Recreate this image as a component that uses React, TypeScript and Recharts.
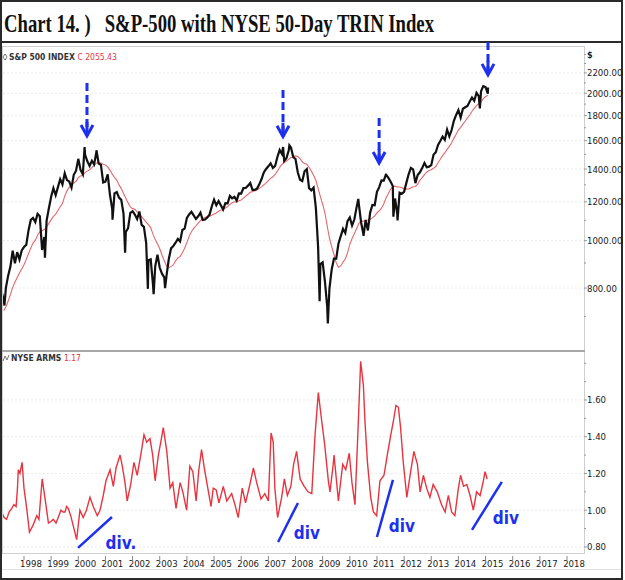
import React from "react";
import { LineChart, Line, XAxis, YAxis, CartesianGrid, ReferenceLine, ReferenceDot } from "recharts";

// ---- S&P 500 month-end closes (1996-06 .. 2015-01) ----
const spxMonths = [
  "1996-06","1996-07","1996-08","1996-09","1996-10","1996-11","1996-12",
  "1997-01","1997-02","1997-03","1997-04","1997-05","1997-06","1997-07","1997-08","1997-09","1997-10","1997-11","1997-12",
  "1998-01","1998-02","1998-03","1998-04","1998-05","1998-06","1998-07","1998-08","1998-09","1998-10","1998-11","1998-12",
  "1999-01","1999-02","1999-03","1999-04","1999-05","1999-06","1999-07","1999-08","1999-09","1999-10","1999-11","1999-12",
  "2000-01","2000-02","2000-03","2000-04","2000-05","2000-06","2000-07","2000-08","2000-09","2000-10","2000-11","2000-12",
  "2001-01","2001-02","2001-03","2001-04","2001-05","2001-06","2001-07","2001-08","2001-09","2001-10","2001-11","2001-12",
  "2002-01","2002-02","2002-03","2002-04","2002-05","2002-06","2002-07","2002-08","2002-09","2002-10","2002-11","2002-12",
  "2003-01","2003-02","2003-03","2003-04","2003-05","2003-06","2003-07","2003-08","2003-09","2003-10","2003-11","2003-12",
  "2004-01","2004-02","2004-03","2004-04","2004-05","2004-06","2004-07","2004-08","2004-09","2004-10","2004-11","2004-12",
  "2005-01","2005-02","2005-03","2005-04","2005-05","2005-06","2005-07","2005-08","2005-09","2005-10","2005-11","2005-12",
  "2006-01","2006-02","2006-03","2006-04","2006-05","2006-06","2006-07","2006-08","2006-09","2006-10","2006-11","2006-12",
  "2007-01","2007-02","2007-03","2007-04","2007-05","2007-06","2007-07","2007-08","2007-09","2007-10","2007-11","2007-12",
  "2008-01","2008-02","2008-03","2008-04","2008-05","2008-06","2008-07","2008-08","2008-09","2008-10","2008-11","2008-12",
  "2009-01","2009-02","2009-03","2009-04","2009-05","2009-06","2009-07","2009-08","2009-09","2009-10","2009-11","2009-12",
  "2010-01","2010-02","2010-03","2010-04","2010-05","2010-06","2010-07","2010-08","2010-09","2010-10","2010-11","2010-12",
  "2011-01","2011-02","2011-03","2011-04","2011-05","2011-06","2011-07","2011-08","2011-09","2011-10","2011-11","2011-12",
  "2012-01","2012-02","2012-03","2012-04","2012-05","2012-06","2012-07","2012-08","2012-09","2012-10","2012-11","2012-12",
  "2013-01","2013-02","2013-03","2013-04","2013-05","2013-06","2013-07","2013-08","2013-09","2013-10","2013-11","2013-12",
  "2014-01","2014-02","2014-03","2014-04","2014-05","2014-06","2014-07","2014-08","2014-09","2014-10","2014-11","2014-12",
  "2015-01",
];
const spxCloses = [
  671, 640, 652, 687, 705, 757, 741,
  786, 791, 757, 801, 848, 885, 954, 899, 947, 915, 955, 970,
  980, 1049, 1102, 1112, 1091, 1134, 1121, 957, 1017, 1099, 1164, 1229,
  1280, 1238, 1286, 1335, 1302, 1373, 1329, 1320, 1283, 1363, 1389, 1469,
  1394, 1366, 1499, 1452, 1421, 1455, 1431, 1518, 1437, 1429, 1315, 1320,
  1366, 1240, 1160, 1249, 1256, 1224, 1211, 1134, 1041, 1060, 1139, 1148,
  1130, 1107, 1147, 1077, 1067, 990, 912, 916, 815, 886, 936, 880,
  856, 841, 848, 917, 964, 975, 990, 1008, 996, 1051, 1058, 1112,
  1131, 1145, 1126, 1107, 1121, 1141, 1102, 1104, 1115, 1130, 1174, 1212,
  1181, 1204, 1181, 1157, 1192, 1191, 1234, 1220, 1229, 1207, 1249, 1248,
  1280, 1281, 1295, 1311, 1270, 1270, 1277, 1304, 1336, 1378, 1401, 1418,
  1438, 1407, 1421, 1482, 1531, 1503, 1455, 1474, 1527, 1549, 1481, 1468,
  1379, 1331, 1323, 1386, 1400, 1280, 1267, 1283, 1166, 969, 896, 903,
  826, 735, 798, 873, 919, 919, 987, 1021, 1057, 1036, 1096, 1115,
  1074, 1104, 1169, 1187, 1089, 1031, 1102, 1049, 1141, 1183, 1181, 1258,
  1286, 1327, 1326, 1364, 1345, 1321, 1292, 1219, 1131, 1253, 1247, 1258,
  1312, 1366, 1408, 1398, 1310, 1362, 1379, 1407, 1441, 1412, 1416, 1426,
  1498, 1515, 1569, 1598, 1631, 1606, 1686, 1633, 1682, 1757, 1806, 1848,
  1783, 1859, 1872, 1884, 1924, 1960, 1931, 2003, 1972, 2018, 2068, 2059,
  1995,
];
// intra-month swing highs / lows visible on the chart
const spxSwingDates = [
  "1997-04-11","1998-10-08","2000-03-24","2000-09-01","2001-04-04","2001-09-21",
  "2002-07-23","2002-10-09","2003-03-11","2007-07-16","2007-10-09","2008-11-20",
  "2009-03-09","2010-04-23","2010-07-02","2011-04-29","2011-08-08","2011-10-03",
  "2014-10-15","2015-02-03",
];
const spxSwingValues = [
  737, 923, 1553, 1530, 1103, 945,
  797, 777, 800, 1553, 1565, 752,
  677, 1217, 1022, 1364, 1119, 1099,
  1862, 2055,
];

// ---- NYSE ARMS (50-day TRIN) ----
const trinYears = [
  1997.18,1997.27,1997.36,1997.45,1997.55,1997.63,1997.71,1997.76,1997.79,1997.85,1997.93,
  1998.00,1998.10,1998.20,1998.34,1998.47,1998.55,1998.67,1998.77,1998.90,
  1999.00,1999.08,1999.18,1999.26,1999.36,1999.44,1999.51,1999.57,1999.63,1999.72,1999.84,1999.94,
  2000.06,2000.18,2000.30,2000.43,2000.55,2000.70,2000.80,2000.92,
  2001.02,2001.17,2001.29,2001.39,2001.54,2001.62,2001.72,2001.80,2001.93,
  2002.05,2002.17,2002.30,2002.42,2002.52,2002.64,2002.74,2002.83,2002.95,
  2003.05,2003.13,2003.26,2003.38,2003.48,2003.60,2003.75,2003.85,2003.99,
  2004.11,2004.22,2004.34,2004.44,2004.54,2004.64,2004.77,2004.89,2004.97,
  2005.08,2005.18,2005.34,2005.47,2005.65,2005.77,2005.89,
  2006.04,2006.16,2006.32,2006.45,2006.57,2006.73,2006.87,
  2007.00,2007.10,2007.18,2007.24,2007.34,2007.49,2007.59,2007.70,2007.83,2007.93,
  2008.04,2008.17,2008.32,2008.46,2008.60,2008.72,2008.84,2008.97,
  2009.08,2009.21,2009.27,2009.39,2009.42,2009.58,2009.74,2009.85,2009.98,
  2010.08,2010.19,2010.29,2010.40,2010.50,2010.56,2010.65,2010.77,2010.87,2010.99,
  2011.11,2011.26,2011.38,2011.51,2011.60,2011.70,2011.79,2011.87,2011.97,
  2012.10,2012.22,2012.36,2012.49,2012.59,2012.71,2012.83,2012.95,
  2013.07,2013.22,2013.38,2013.51,2013.63,2013.75,2013.87,
  2014.00,2014.08,2014.19,2014.31,2014.43,2014.55,2014.67,2014.80,2014.92,2014.98,2015.06,
];
const trinValues = [
  0.99,0.96,0.95,0.99,1.01,1.03,1.02,1.12,1.22,1.20,1.26,
  1.12,1.01,0.88,0.92,0.97,0.95,1.17,1.07,0.93,
  0.94,0.95,0.93,0.96,1.00,0.99,0.99,1.02,1.01,0.97,0.90,0.84,
  1.00,0.96,1.00,1.07,1.02,0.97,1.00,1.08,
  1.16,1.22,1.13,1.23,1.30,1.24,1.15,1.05,1.14,
  1.26,1.19,1.30,1.41,1.37,1.39,1.30,1.16,1.30,
  1.38,1.45,1.32,1.12,1.15,1.01,1.15,1.10,1.00,
  1.24,1.21,1.05,1.22,1.33,1.23,1.12,1.02,1.12,
  1.11,1.04,1.13,1.05,1.09,1.03,0.96,
  1.12,1.04,1.14,1.23,1.15,1.06,1.09,
  1.05,1.42,1.37,1.12,0.96,1.07,1.17,1.08,1.13,1.25,
  1.32,1.17,1.13,1.10,1.09,1.41,1.64,1.48,
  1.35,1.16,1.10,1.25,1.30,1.05,1.25,1.22,1.31,
  1.15,1.03,1.39,1.81,1.68,1.48,1.26,1.07,0.99,0.97,
  1.16,1.19,1.30,1.41,1.48,1.57,1.56,1.45,1.26,
  1.07,1.19,1.32,1.25,1.10,1.19,1.12,1.07,
  1.14,1.10,1.03,0.99,1.08,0.99,0.97,
  1.12,1.19,1.13,1.14,1.08,1.00,1.10,1.08,1.16,1.21,1.17,
];

// ---- axes ----
const yearTicks = [1998,1999,2000,2001,2002,2003,2004,2005,2006,2007,2008,2009,2010,2011,2012,2013,2014,2015,2016,2017,2018];
const spxTicks = [700,800,900,1000,1100,1200,1300,1400,1500,1600,1700,1800,1900,2000,2100,2200,2300,2400];
const spxLabelTicks = [800,1000,1200,1400,1600,1800,2000,2200];
const trinTicks = [0.8,0.9,1.0,1.1,1.2,1.3,1.4,1.5,1.6,1.7,1.8];
const trinLabelTicks = [0.8,1.0,1.2,1.4,1.6];

// ---- annotations ----
const arrowYears = [2000.32, 2007.54, 2011.08, 2015.09];
const arrowTipValues = [1636, 1630, 1440, 2180];
const arrowTopValues = [2099, 2031, 1781, 2545];
const divStartYears = [1999.99, 2007.36, 2011.0, 2014.5];
const divStartValues = [0.795, 0.827, 0.854, 0.893];
const divEndYears = [2001.24, 2008.09, 2011.59, 2015.6];
const divEndValues = [0.963, 1.039, 1.165, 1.154];
const divLabelYears = [2001.57, 2008.42, 2011.92, 2015.75];
const divLabelValues = [0.82, 0.876, 0.914, 0.958];
const divLabels = ["div.", "div", "div", "div"];

const X_DOMAIN: [number, number] = [1997.227, 2018.626];
const NARROW = "'Liberation Sans Narrow', 'Arial Narrow', 'DejaVu Sans Condensed', 'Liberation Sans', sans-serif";
const BLUE = "#1d30f0";

function toYear(s: string): number {
  const parts = s.split("-").map(Number);
  if (parts.length === 3) return parts[0] + (parts[1] - 1) / 12 + parts[2] / 365;
  return parts[0] + parts[1] / 12;
}

const monthly = spxMonths.map((m, i) => {
  let ma: number | null = null;
  if (i >= 9) {
    let s = 0;
    for (let k = i - 9; k <= i; k++) s += spxCloses[k];
    ma = s / 10;
  }
  return { x: toYear(m), spx: spxCloses[i], ma };
});
const swings = spxSwingDates.map((d, i) => ({ x: toYear(d), spx: spxSwingValues[i], ma: null }));
const spxData = [...monthly, ...swings].sort((a, b) => a.x - b.x);
const trinData = trinYears.map((y, i) => ({ x: y, trin: trinValues[i] }));

const SpxTick = (props: any) => {
  const { x, y, payload } = props;
  const major = spxLabelTicks.includes(payload.value);
  return (
    <g>
      <line x1={x} x2={x + (major ? 3 : 2)} y1={y} y2={y} stroke="#999" strokeWidth={1} />
      {major && (
        <text x={x + 3} y={y} dy={3.5} fontSize={9.5} fontFamily={NARROW} fill="#1a1a1a">
          {payload.value.toFixed(2)}
        </text>
      )}
    </g>
  );
};

const TrinTick = (props: any) => {
  const { x, y, payload } = props;
  const major = trinLabelTicks.some((t) => Math.abs(t - payload.value) < 1e-6);
  return (
    <g>
      <line x1={x} x2={x + (major ? 3 : 2)} y1={y} y2={y} stroke="#999" strokeWidth={1} />
      {major && (
        <text x={x + 3} y={y} dy={3.5} fontSize={9.5} fontFamily={NARROW} fill="#1a1a1a">
          {payload.value.toFixed(2)}
        </text>
      )}
    </g>
  );
};

const YearTick = (props: any) => {
  const { x, y, payload } = props;
  return (
    <g>
      <line x1={x} x2={x} y1={y + 3} y2={y + 7} stroke="#888" strokeWidth={1} />
      <text x={x + 7} y={y + 14} textAnchor="middle" fontSize={9.5} fontFamily={NARROW} fill="#1a1a1a">
        {payload.value}
      </text>
    </g>
  );
};

const ArrowHead = (props: any) => {
  const { cx, cy } = props;
  if (cx == null || cy == null) return null;
  return (
    <g>
      <line x1={cx} x2={cx} y1={cy - 14} y2={cy} stroke={BLUE} strokeWidth={3} />
      <path d={`M${cx - 6},${cy - 11} L${cx},${cy} L${cx + 6},${cy - 11}`} fill="none" stroke={BLUE} strokeWidth={3} strokeLinejoin="miter" />
    </g>
  );
};

const makeDivLabel = (text: string) => (props: any) => {
  const { cx, cy } = props;
  if (cx == null || cy == null) return null;
  return (
    <text x={cx} y={cy} dy={6} textAnchor="middle" fontSize={17} fontWeight="bold" fontFamily={NARROW} fill={BLUE}>
      {text}
    </text>
  );
};

export default function App() {
  return (
    <div style={{ position: "absolute", left: 0, top: 0, width: 625, height: 580, background: "#fff", fontFamily: "'Liberation Sans', sans-serif", overflow: "hidden" }}>
      {/* outer frame */}
      <div style={{ position: "absolute", left: 0, top: 0, width: 623, height: 580, border: "2px solid #2a2a2a", boxSizing: "border-box" }} />
      {/* title separator */}
      <div style={{ position: "absolute", left: 0, top: 41, width: 623, height: 2, background: "#2a2a2a" }} />
      {/* panel frames */}
      <div style={{ position: "absolute", left: 2, top: 46, width: 583, height: 305, border: "1px solid #cfcfcf", boxSizing: "border-box" }} />
      <div style={{ position: "absolute", left: 2, top: 350, width: 583, height: 2, background: "#a8a8a8" }} />
      <div style={{ position: "absolute", left: 2, top: 352, width: 583, height: 202, border: "1px solid #cfcfcf", borderTop: "none", boxSizing: "border-box" }} />
      <div style={{ position: "absolute", left: 2, top: 569, width: 619, height: 1, background: "#e2e2e2" }} />

      <svg width={625} height={44} style={{ position: "absolute", left: 0, top: 0 }}>
        <text x={4} y={32} fontFamily="'Liberation Serif', 'Times New Roman', serif" fontWeight="bold" fontSize={26}
          textLength={430} lengthAdjust="spacingAndGlyphs" style={{ whiteSpace: "pre" }} fill="#111">
          {"Chart 14. )   S&P-500 with NYSE 50-Day TRIN Index"}
        </text>
      </svg>

      <div style={{ position: "absolute", left: 0, top: 0 }}>
        <LineChart width={625} height={360} data={spxData} margin={{ top: 48, right: 5, bottom: 9, left: 3 }}>
          <CartesianGrid vertical={false} horizontalValues={spxLabelTicks} stroke="#ececec" strokeDasharray="2 2" />
          <XAxis type="number" dataKey="x" domain={X_DOMAIN} allowDataOverflow hide ticks={yearTicks} />
          <YAxis orientation="right" scale="log" domain={[595, 2474]} allowDataOverflow ticks={spxTicks} interval={0}
            width={36} axisLine={false} tickLine={false} tickSize={0} tickMargin={0} tick={<SpxTick />} />
          <Line type="linear" dataKey="ma" stroke="#e8676b" strokeWidth={1.1} dot={false} connectNulls isAnimationActive={false} />
          <Line type="linear" dataKey="spx" stroke="#111" strokeWidth={2.2} dot={false} isAnimationActive={false} />
          {arrowYears.map((yr, i) => (
            <ReferenceLine key={"as" + i} ifOverflow="visible" stroke={BLUE} strokeWidth={3} strokeDasharray="8 4"
              segment={[{ x: yr, y: arrowTopValues[i] }, { x: yr, y: arrowTipValues[i] }]} />
          ))}
          {arrowYears.map((yr, i) => (
            <ReferenceDot key={"ah" + i} x={yr} y={arrowTipValues[i]} ifOverflow="visible" shape={<ArrowHead />} />
          ))}
        </LineChart>
      </div>

      <div style={{ position: "absolute", left: 0, top: 340 }}>
        <LineChart width={625} height={240} data={trinData} margin={{ top: 12, right: 5, bottom: 7, left: 3 }}>
          <CartesianGrid vertical={false} horizontalValues={trinLabelTicks} stroke="#ececec" strokeDasharray="2 2" />
          <XAxis type="number" dataKey="x" domain={X_DOMAIN} allowDataOverflow ticks={yearTicks} interval={0}
            height={20} axisLine={false} tickLine={false} tickSize={0} tickMargin={0} tick={<YearTick />} />
          <YAxis orientation="right" domain={[0.767, 1.861]} allowDataOverflow ticks={trinTicks} interval={0}
            width={36} axisLine={false} tickLine={false} tickSize={0} tickMargin={0} tick={<TrinTick />} />
          <Line type="linear" dataKey="trin" stroke="#e8343f" strokeWidth={1.4} dot={false} isAnimationActive={false} />
          {divStartYears.map((yr, i) => (
            <ReferenceLine key={"dv" + i} ifOverflow="visible" stroke={BLUE} strokeWidth={2.5}
              segment={[{ x: yr, y: divStartValues[i] }, { x: divEndYears[i], y: divEndValues[i] }]} />
          ))}
          {divLabelYears.map((yr, i) => (
            <ReferenceDot key={"dl" + i} x={yr} y={divLabelValues[i]} ifOverflow="visible" shape={makeDivLabel(divLabels[i])} />
          ))}
        </LineChart>
      </div>

      {/* legends and axis unit */}
      <svg width={625} height={580} style={{ position: "absolute", left: 0, top: 0, pointerEvents: "none" }}>
        <path d="M5,54 L7,57 L5,60 L3,57 Z" fill="none" stroke="#555" strokeWidth={0.8} />
        <text x={9} y={60} fontSize={8.5} fontFamily={NARROW} fill="#333" style={{ whiteSpace: "pre" }}>
          <tspan fontWeight="bold">S&amp;P 500 INDEX </tspan>
          <tspan fill="#e8343f">C 2055.43</tspan>
        </text>
        <text x={587} y={58} fontSize={9} fontWeight="bold" fontFamily={NARROW} fill="#222">$</text>
        <path d="M3,361 L5,356 L7,360 L9,355" fill="none" stroke="#555" strokeWidth={0.8} />
        <text x={11} y={361} fontSize={8.5} fontFamily={NARROW} fill="#333" style={{ whiteSpace: "pre" }}>
          <tspan fontWeight="bold">NYSE ARMS </tspan>
          <tspan fill="#e8343f">1.17</tspan>
        </text>
      </svg>
    </div>
  );
}
